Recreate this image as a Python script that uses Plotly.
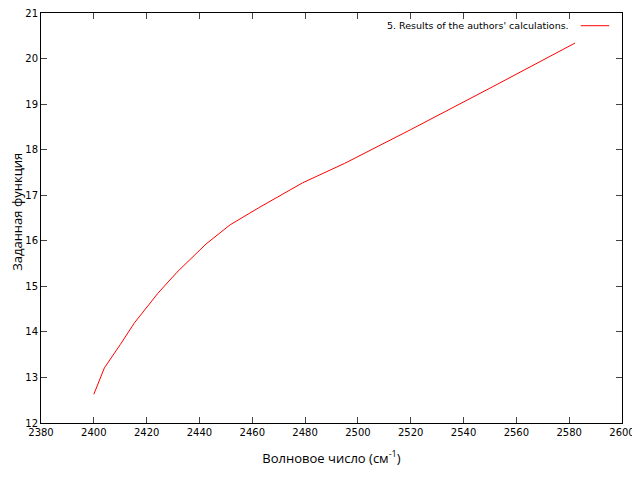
import plotly.graph_objects as go

wavenumber = [2400.0, 2404.0, 2410.0, 2415.4, 2424.3, 2431.5, 2442.5, 2451.6, 2462.9,
              2479.0, 2495.0, 2520.0, 2550.0, 2582.2]
func_values = [12.63, 13.21, 13.72, 14.20, 14.85, 15.31, 15.93, 16.35, 16.74,
               17.27, 17.70, 18.44, 19.35, 20.34]
series_name = "5. Results of the authors' calculations."
x_ticks = [2380, 2400, 2420, 2440, 2460, 2480, 2500, 2520, 2540, 2560, 2580, 2600]
y_ticks = [12, 13, 14, 15, 16, 17, 18, 19, 20, 21]
x_title = "Волновое число (см<sup>-1</sup>)"
y_title = "Заданная функция"

fig = go.Figure()
fig.add_trace(go.Scatter(x=wavenumber, y=func_values, mode="lines",
                         line=dict(color="#ff0000", width=1), name=series_name,
                         showlegend=False))

tickfont = dict(family="DejaVu Sans", size=10, color="#000")
titlefont = dict(family="Open Sans", size=13, color="#000")
fig.update_xaxes(range=[2380, 2600], tickvals=x_ticks, ticks="inside", ticklen=6,
                 mirror="allticks", showline=True, linecolor="#000", linewidth=1,
                 showgrid=False, zeroline=False, tickfont=tickfont, automargin=False,
                 ticklabeloverflow="allow",
                 title=dict(text=x_title, font=titlefont, standoff=16))
fig.update_yaxes(range=[12, 21], tickvals=y_ticks, ticks="inside", ticklen=6,
                 mirror="allticks", showline=True, linecolor="#000", linewidth=1,
                 showgrid=False, zeroline=False, tickfont=tickfont, automargin=False,
                 ticklabeloverflow="allow")

# y-axis title as rotated annotation (axis title is clamped inside the margin)
fig.add_annotation(xref="paper", yref="paper", x=-0.0413, y=0.515, xanchor="center",
                   yanchor="middle", text=y_title, textangle=-90, showarrow=False,
                   font=titlefont, borderpad=0)

fig.add_annotation(xref="paper", yref="paper", x=0.912, y=0.969, xanchor="right",
                   yanchor="middle", text=series_name, showarrow=False,
                   font=dict(family="DejaVu Sans", size=9.5, color="#000"))
fig.add_shape(type="line", xref="paper", yref="paper", x0=0.929, x1=0.978,
              y0=0.969, y1=0.969, line=dict(color="#ff0000", width=1))

fig.update_layout(width=632, height=472, margin=dict(l=33, r=18, t=5, b=57),
                  plot_bgcolor="white", paper_bgcolor="white")
fig.write_html("out.html")
